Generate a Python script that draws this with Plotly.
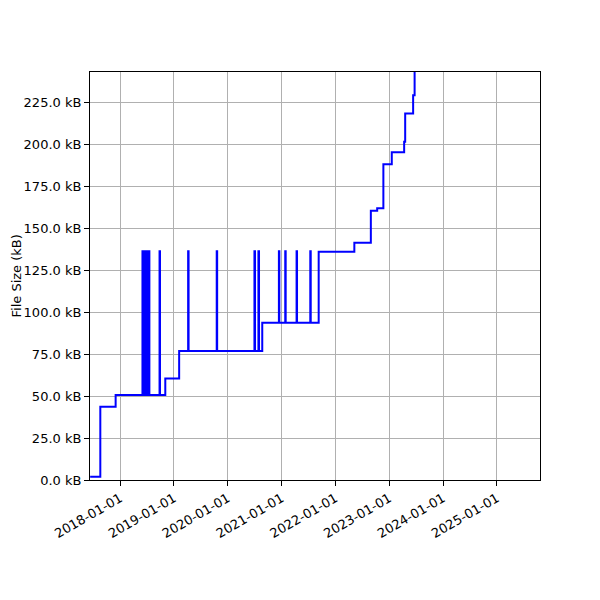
import plotly.graph_objects as go

# commit dates and file size (kB) after each commit
commit_dates = [
    "2017-06-11", "2017-08-19", "2017-12-01",
    "2018-06-01", "2018-06-03", "2018-06-06", "2018-06-08", "2018-06-12", "2018-06-15",
    "2018-06-19", "2018-06-21", "2018-06-25", "2018-06-27", "2018-07-01", "2018-07-03",
    "2018-07-06", "2018-07-09", "2018-07-12", "2018-07-18",
    "2018-09-25", "2018-09-28", "2018-11-03",
    "2019-02-05", "2019-04-07", "2019-04-10", "2019-10-18", "2019-10-21",
    "2020-06-30", "2020-07-04", "2020-07-27", "2020-07-31", "2020-08-22",
    "2020-12-13", "2020-12-16", "2021-01-25", "2021-01-28", "2021-04-12", "2021-04-15",
    "2021-07-14", "2021-07-17", "2021-09-09",
    "2022-05-09", "2022-08-29", "2022-10-11", "2022-11-22",
    "2023-01-18", "2023-04-12", "2023-04-19", "2023-06-12", "2023-06-22",
]
file_sizes_kb = [
    2.0, 43.6, 50.6,
    136.3, 50.6, 136.3, 50.6, 136.3, 50.6,
    136.3, 50.6, 136.3, 50.6, 136.3, 50.6,
    136.3, 50.6, 136.3, 50.6,
    136.3, 50.6, 60.5,
    76.8, 136.3, 76.8, 136.3, 76.8,
    136.3, 76.8, 136.3, 76.8, 93.6,
    136.3, 93.6, 136.3, 93.6, 136.3, 93.6,
    136.3, 93.6, 135.9,
    141.3, 160.3, 161.9, 188.1,
    195.2, 201.4, 218.3, 229.2, 262.0,
]

year_ticks = ["2018-01-01", "2019-01-01", "2020-01-01", "2021-01-01",
              "2022-01-01", "2023-01-01", "2024-01-01", "2025-01-01"]
size_ticks = [0, 25, 50, 75, 100, 125, 150, 175, 200, 225]

fig = go.Figure()
fig.add_trace(go.Scatter(
    x=commit_dates,
    y=file_sizes_kb,
    mode="lines",
    line=dict(color="blue", width=2, shape="hv"),
    showlegend=False,
))

axis_style = dict(
    showline=True, linecolor="black", linewidth=1, mirror=True,
    showgrid=True, gridcolor="#b0b0b0", gridwidth=1,
    ticks="outside", ticklen=5, tickcolor="black",
    zeroline=False, automargin=False,
    tickfont=dict(size=13),
)

fig.update_layout(
    width=600, height=600,
    margin=dict(l=82, r=68, t=64, b=128),
    plot_bgcolor="white", paper_bgcolor="white",
    font=dict(family="DejaVu Sans", size=13, color="black"),
    xaxis=dict(
        type="date",
        range=["2017-06-10", "2025-10-20"],
        tickmode="array",
        tickvals=year_ticks,
        ticktext=year_ticks,
        tickangle=-30,
        **axis_style,
    ),
    yaxis=dict(
        range=[0, 243],
        tickmode="array",
        tickvals=size_ticks,
        ticktext=[f"{v:.1f} kB" for v in size_ticks],
        **axis_style,
    ),
)

# y label at the far left of the figure, as in the original
fig.add_annotation(
    text="File Size (kB)", textangle=-90,
    xref="paper", yref="paper", x=-82 / 450, y=0.5,
    xanchor="left", yanchor="middle",
    showarrow=False, font=dict(size=13),
    borderpad=0, borderwidth=0,
)

fig.write_html("out.html")
